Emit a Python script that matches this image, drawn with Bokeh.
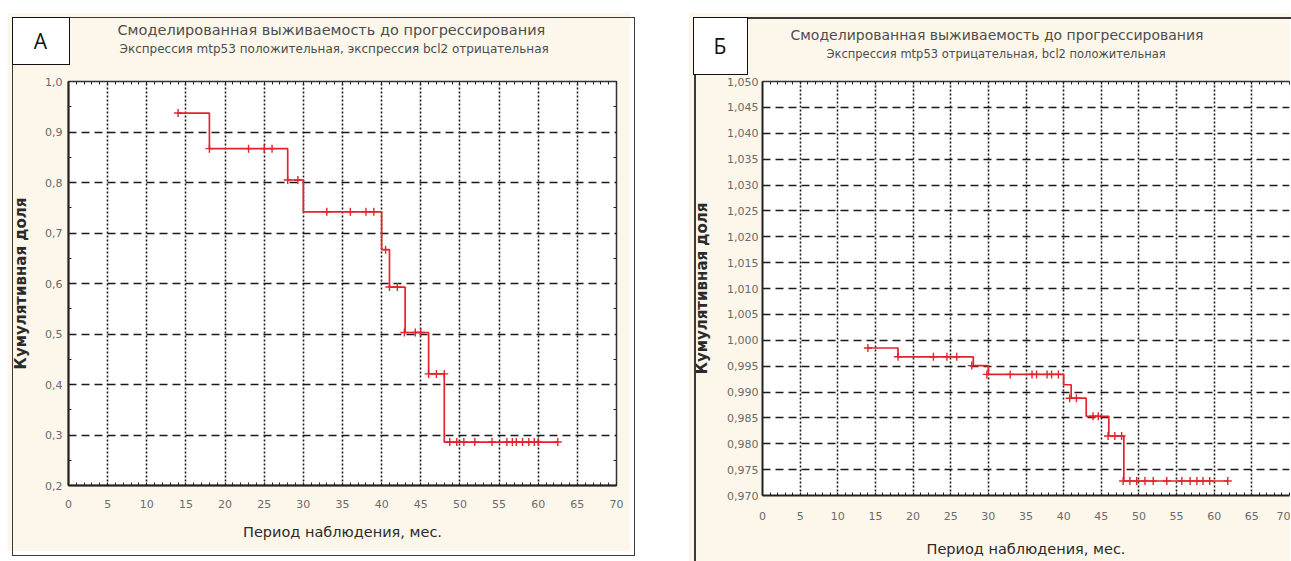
from bokeh.plotting import figure
from bokeh.models import (LinearAxis, FixedTicker, CustomJSTickFormatter,
                          Range1d, Spacer, Title, Div)
from bokeh.layouts import row, column
from bokeh.embed import file_html
from bokeh.resources import INLINE

# ---------------- data: panel А ----------------
a_letter = "А"
a_title1 = "Смоделированная выживаемость до прогрессирования"
a_title2 = "Экспрессия mtp53 положительная, экспрессия bcl2 отрицательная"
a_step_x = [14, 18, 28, 30, 40, 41, 43, 46, 48, 62.5]
a_step_y = [0.9375, 0.867, 0.805, 0.742, 0.667, 0.593, 0.503, 0.421, 0.286, 0.286]
a_cens_x = [14, 18, 23, 25, 26, 28, 29.3, 33, 36, 38, 39, 40.5, 41, 42,
            42.9, 44.3, 45, 46, 47, 48, 48.7, 49.6, 50.5, 51.9, 54.1, 56.0,
            56.7, 57.2, 58.0, 58.8, 59.5, 60.0, 62.5]
a_cens_y = [0.9375, 0.867, 0.867, 0.867, 0.867, 0.805, 0.805, 0.742, 0.742,
            0.742, 0.742, 0.667, 0.593, 0.593, 0.503, 0.503, 0.503, 0.421,
            0.421, 0.421] + [0.286] * 13
a_yticks = [0.2, 0.3, 0.4, 0.5, 0.6, 0.7, 0.8, 0.9, 1.0]
a_ylabels = ["0,2", "0,3", "0,4", "0,5", "0,6", "0,7", "0,8", "0,9", "1,0"]

# ---------------- data: panel Б ----------------
b_letter = "Б"
b_title1 = "Смоделированная выживаемость до прогрессирования"
b_title2 = "Экспрессия mtp53 отрицательная, bcl2 положительная"
b_step_x = [14, 18, 28, 30, 40, 41, 43, 46, 48, 61.8]
b_step_y = [0.9985, 0.9968, 0.9951, 0.9934, 0.9914, 0.9888, 0.9853, 0.9815, 0.9728, 0.9728]
b_cens_x = [14, 18, 22.7, 24.5, 25.8, 27.8, 29.8, 32.9, 35.8, 36.4, 37.8, 38.4,
            39.3, 40.8, 41.7, 43.9, 44.6, 45.9, 46.8, 47.7, 47.9, 48.8, 49.7,
            50.8, 51.9, 53.7, 55.7, 56.8, 57.7, 58.5, 59.4, 61.8]
b_cens_y = ([0.9985] + [0.9968] * 4 + [0.9951] + [0.9934] * 7 + [0.9888] * 2
            + [0.9853] * 2 + [0.9815] * 3 + [0.9728] * 12)
b_yticks = [0.970, 0.975, 0.980, 0.985, 0.990, 0.995, 1.000, 1.005, 1.010,
            1.015, 1.020, 1.025, 1.030, 1.035, 1.040, 1.045, 1.050]
b_ylabels = ["0,970", "0,975", "0,980", "0,985", "0,990", "0,995", "1,000",
             "1,005", "1,010", "1,015", "1,020", "1,025", "1,030", "1,035",
             "1,040", "1,045", "1,050"]

x_ticks = [0, 5, 10, 15, 20, 25, 30, 35, 40, 45, 50, 55, 60, 65, 70]
x_labels = ["0", "5", "10", "15", "20", "25", "30", "35", "40", "45", "50",
            "55", "60", "65", "70"]
x_title = "Период наблюдения, мес."
y_title = "Кумулятивная доля"

RED = "#e3242b"
CREAM = "#fcf7ea"
TFONT = "DejaVu Sans"


def label_fmt(ticks, labels):
    return CustomJSTickFormatter(args=dict(tv=ticks, tl=labels), code="""
        for (let i = 0; i < tv.length; i++) {
            if (Math.abs(tv[i] - tick) < 1e-7) { return tl[i]; }
        }
        return '';
    """)


def blank_fmt():
    return CustomJSTickFormatter(code="return '';")


def make_panel(w, h, ml, mr, mt, mb, xend, y0, y1, yticks, ylabels, yminor,
               xlab_standoff, xtitle_standoff, ylab_standoff, ytitle_standoff):
    p = figure(width=w, height=h, x_range=Range1d(0, xend), y_range=Range1d(y0, y1),
               output_backend="svg", toolbar_location=None,
               min_border_left=ml, min_border_right=mr,
               min_border_top=mt, min_border_bottom=mb)
    p.title.visible = False
    p.border_fill_color = CREAM
    p.background_fill_color = "white"
    p.outline_line_color = "#333333"
    p.outline_line_width = 1.5

    xminor = list(range(0, 71))
    p.xaxis.ticker = FixedTicker(ticks=x_ticks, minor_ticks=xminor)
    p.xaxis.formatter = label_fmt(x_ticks, x_labels)
    p.yaxis.ticker = FixedTicker(ticks=yticks, minor_ticks=yminor)
    p.yaxis.formatter = label_fmt(yticks, ylabels)

    for ax in (p.xaxis[0], p.yaxis[0]):
        ax.axis_line_color = "#222222"
        ax.axis_line_width = 2
        ax.major_tick_out = 0
        ax.major_tick_in = 0
        ax.minor_tick_out = 0
        ax.minor_tick_in = 3
        ax.minor_tick_line_color = "#222222"
        ax.major_label_text_font = "DejaVu Sans"
        ax.major_label_text_font_size = "11px"
        ax.major_label_text_color = "#6a6a6a"
        ax.axis_label_text_font = TFONT
        ax.axis_label_text_color = "#2a2a2a"
    p.xaxis.axis_label = x_title
    p.xaxis.axis_label_text_font_size = "14.5px"
    p.xaxis.axis_label_text_font_style = "normal"
    p.xaxis.major_label_standoff = xlab_standoff
    p.xaxis.axis_label_standoff = xtitle_standoff
    p.yaxis.axis_label = y_title
    p.yaxis.axis_label_text_font_size = "15px"
    p.yaxis.axis_label_text_font_style = "bold"
    p.yaxis.major_label_standoff = ylab_standoff
    p.yaxis.axis_label_standoff = ytitle_standoff

    p.xgrid.grid_line_color = "#1a1a1a"
    p.xgrid.grid_line_width = 1.6
    p.xgrid.grid_line_dash = "2 2"
    p.ygrid.grid_line_color = "#1a1a1a"
    p.ygrid.grid_line_width = 1.6
    p.ygrid.grid_line_dash = "8 5"
    return p


def add_curve(p, sx, sy, cx, cy):
    p.step(x=sx, y=sy, mode="after", line_color=RED, line_width=1.7)
    p.scatter(x=cx, y=cy, marker="cross", size=8, line_color=RED, line_width=1.4)


def add_titles(p, t1, t2, off1, off2, st1, st2, fs1, fs2, gap):
    # empty spacer between the frame and the subtitle
    p.add_layout(Title(text=" ", standoff=gap, text_font=TFONT,
                       text_font_size="8px"), "above")
    p.add_layout(Title(text=t2, align="left", offset=off2, standoff=st2,
                       text_font=TFONT, text_font_size=fs2,
                       text_font_style="normal", text_color="#4d4d4d"), "above")
    p.add_layout(Title(text=t1, align="left", offset=off1, standoff=st1,
                       text_font=TFONT, text_font_size=fs1,
                       text_font_style="normal", text_color="#4d4d4d"), "above")


def deco(left, top, w, h, border=None, bg=None, text=""):
    st = {"position": "absolute", "left": f"{left}px", "top": f"{top}px",
          "width": f"{w}px", "height": f"{h}px", "box-sizing": "border-box",
          "z-index": "10", "pointer-events": "none"}
    inner = ""
    if text:
        inner = (f'<div style="width:{w - 3}px;height:{h - 3}px;display:flex;'
                 f'align-items:center;justify-content:center;'
                 f'font-family:\'Open Sans\';font-size:21px;color:#111;">{text}</div>')
    if border:
        st["border"] = border
    if bg:
        st["background"] = bg
    return Div(text=inner, width=w, height=h, styles=st)


def top_axis(line_color):
    return LinearAxis(ticker=FixedTicker(ticks=x_ticks, minor_ticks=list(range(0, 71))),
                      formatter=blank_fmt(), axis_line_color=line_color,
                      axis_line_width=1.5, major_tick_out=0, major_tick_in=0,
                      minor_tick_out=0, minor_tick_in=3,
                      minor_tick_line_color="#222222", major_label_standoff=0)


# ---------------- panel А (page x 7..630, y 12..551) ----------------
WA, HA = 623, 539
pa = make_panel(WA, HA, 61, 14, 68, 66, 70, 0.2, 1.0, a_yticks, a_ylabels,
                [0.25, 0.35, 0.45, 0.55, 0.65, 0.75, 0.85, 0.95],
                14, 13, 6, 12)
right_a = LinearAxis(ticker=FixedTicker(ticks=a_yticks,
                                        minor_ticks=[0.25, 0.35, 0.45, 0.55, 0.65, 0.75, 0.85, 0.95]),
                     formatter=blank_fmt(), axis_line_color=None, major_tick_out=0,
                     major_tick_in=0, minor_tick_out=0, minor_tick_in=3,
                     minor_tick_line_color="#222222", major_label_standoff=0)
pa.add_layout(top_axis(None), "above")
pa.add_layout(right_a, "right")
add_curve(pa, a_step_x, a_step_y, a_cens_x, a_cens_y)
add_titles(pa, a_title1, a_title2, 49, 51, 0, 4, "14.5px", "12px", 13)

# ---------------- panel Б (page x 688..1290, y 12..561) ----------------
WB, HB = 602, 549
pb = make_panel(WB, HB, 74, 1, 69, 63, 70, 0.970, 1.050, b_yticks, b_ylabels,
                [], 16, 18, 4, 13)
pb.outline_line_color = None
pb.add_layout(top_axis("#333333"), "above")
add_curve(pb, b_step_x, b_step_y, b_cens_x, b_cens_y)
add_titles(pb, b_title1, b_title2, 28, 64, 0, 4, "14px", "11.5px", 8)

decos = [
    deco(7, 12, WA, HA, border="1.5px solid #3a3a3a"),
    deco(7, 12, 58, 48, border="1.5px solid #111111", bg="white", text=a_letter),
    deco(689, 12, 2, 549, bg="#3a3a3a"),
    deco(689, 12, 602, 2, bg="#3a3a3a"),
    deco(688, 12, 55, 58, border="1.5px solid #111111", bg="white", text=b_letter),
]

layout = column([Spacer(height=12),
                 row(Spacer(width=7), pa, Spacer(width=688 - 7 - WA), pb)] + decos)

open("out.html", "w").write(file_html(layout, INLINE))
